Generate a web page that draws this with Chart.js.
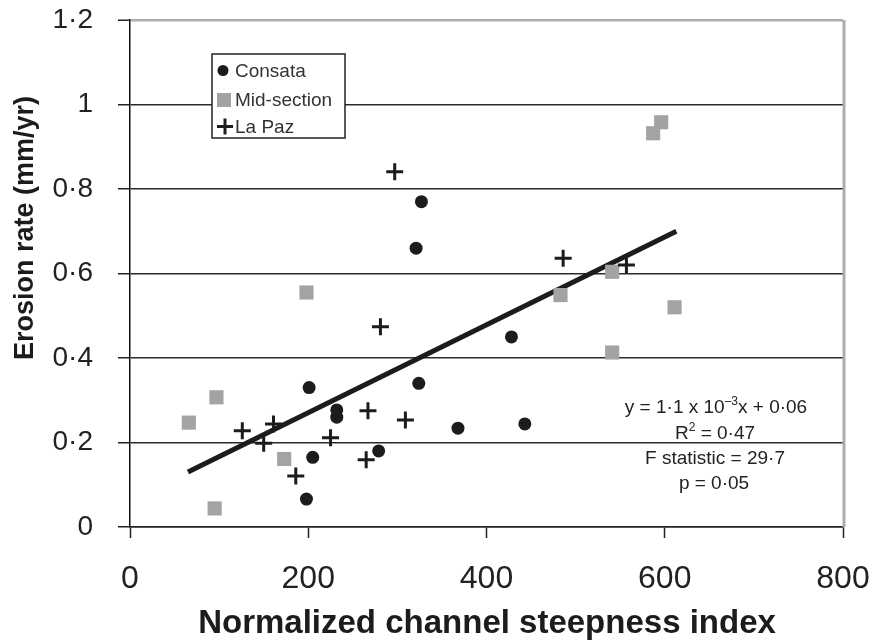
<!DOCTYPE html>
<html>
<head>
<meta charset="utf-8">
<script src="https://cdn.jsdelivr.net/npm/chart.js@4.4.1/dist/chart.umd.min.js"></script>
<style>
  html, body { margin: 0; padding: 0; background: #fff; }
  #wrap { width: 877px; height: 641px; position: relative; }
</style>
</head>
<body>
<div id="wrap"><canvas id="erosion-chart"></canvas></div>
<script>
const xTickLabels = ['0', '200', '400', '600', '800'];
const yTickLabels = ['0', '0·2', '0·4', '0·6', '0·8', '1', '1·2'];

const consataX = [327, 321, 428, 201, 324, 232, 232, 368, 443, 205, 279, 198];
const consataY = [0.77, 0.66, 0.45, 0.33, 0.34, 0.277, 0.26, 0.234, 0.244, 0.165, 0.18, 0.066];

const midX = [198, 97, 66, 173, 95, 596, 587, 483, 541, 611, 541];
const midY = [0.555, 0.307, 0.247, 0.161, 0.044, 0.958, 0.932, 0.549, 0.604, 0.52, 0.413];

const lapazX = [297, 281, 267, 309, 126, 161, 150, 225, 265, 186, 486, 557];
const lapazY = [0.841, 0.474, 0.275, 0.253, 0.228, 0.244, 0.198, 0.211, 0.159, 0.121, 0.636, 0.62];

const trendX = [65, 613];
const trendY = [0.13, 0.70];

const seriesNames = ['Consata', 'Mid-section', 'La Paz'];
const xTitle = 'Normalized channel steepness index';
const yTitle = 'Erosion rate (mm/yr)';

const pts = (xs, ys) => xs.map((x, i) => ({ x: x, y: ys[i] }));

const FONT = '"Liberation Sans", Arial, Helvetica, sans-serif';
const INK = '#1c1c1c';
const GREY = '#a3a3a3';

// titles, legend box, stats text and the grey frame
const overlay = {
    id: 'overlay',
    afterDraw(chart) {
        const { ctx, chartArea: a } = chart;
        ctx.save();

        // right frame
        ctx.strokeStyle = '#adadad';
        ctx.lineWidth = 3;
        ctx.beginPath();
        ctx.moveTo(a.right + 1, a.top);
        ctx.lineTo(a.right + 1, a.bottom);
        ctx.stroke();

        ctx.fillStyle = INK;

        // x title
        ctx.font = 'bold 33px ' + FONT;
        ctx.textAlign = 'center';
        ctx.textBaseline = 'alphabetic';
        ctx.fillText(xTitle, 487, 633);

        // y title
        ctx.save();
        ctx.translate(26, 228);
        ctx.rotate(-Math.PI / 2);
        ctx.font = 'bold 27px ' + FONT;
        ctx.textBaseline = 'middle';
        ctx.fillText(yTitle, 0, 0);
        ctx.restore();

        // legend
        ctx.fillStyle = '#fff';
        ctx.fillRect(212, 54, 133, 84);
        ctx.strokeStyle = '#222';
        ctx.lineWidth = 1.5;
        ctx.strokeRect(212, 54, 133, 84);

        ctx.fillStyle = INK;
        ctx.beginPath();
        ctx.arc(223, 70.5, 5.5, 0, Math.PI * 2);
        ctx.fill();
        ctx.fillStyle = GREY;
        ctx.fillRect(217, 93, 14, 14);
        ctx.strokeStyle = INK;
        ctx.lineWidth = 3;
        ctx.beginPath();
        ctx.moveTo(217, 126.5); ctx.lineTo(233, 126.5);
        ctx.moveTo(225, 118.5); ctx.lineTo(225, 134.5);
        ctx.stroke();

        ctx.fillStyle = '#333';
        ctx.font = '19px ' + FONT;
        ctx.textAlign = 'left';
        ctx.textBaseline = 'alphabetic';
        ctx.fillText(seriesNames[0], 235, 77);
        ctx.fillText(seriesNames[1], 235, 106);
        ctx.fillText(seriesNames[2], 235, 133);

        // regression stats
        ctx.fillStyle = '#222';
        const big = '19px ' + FONT, small = '12px ' + FONT;
        drawPieces(ctx, [['y = 1·1 x 10', big, 0], ['\u20123', small, -8], ['x + 0·06', big, 0]], 716, 413);
        drawPieces(ctx, [['R', big, 0], ['2', small, -8], [' = 0·47', big, 0]], 715, 439);
        ctx.font = big;
        ctx.textAlign = 'center';
        ctx.fillText('F statistic = 29·7', 715, 464);
        ctx.fillText('p = 0·05', 714, 489);

        ctx.restore();
    }
};

function drawPieces(ctx, parts, cx, y) {
    let total = 0;
    parts.forEach(p => { ctx.font = p[1]; total += ctx.measureText(p[0]).width; });
    let x = cx - total / 2;
    ctx.textAlign = 'left';
    parts.forEach(p => {
        ctx.font = p[1];
        ctx.fillText(p[0], x, y + p[2]);
        x += ctx.measureText(p[0]).width;
    });
}

function noPad(scale) {
    scale.paddingTop = 0;
    scale.paddingBottom = 0;
    scale.paddingLeft = 0;
    scale.paddingRight = 0;
}

const ctx = document.getElementById('erosion-chart').getContext('2d');
new Chart(ctx, {
    type: 'scatter',
    data: {
        datasets: [
            {
                label: seriesNames[0],
                data: pts(consataX, consataY),
                pointStyle: 'circle',
                pointRadius: 6.5,
                backgroundColor: INK,
                borderColor: INK,
                borderWidth: 0
            },
            {
                label: seriesNames[2],
                data: pts(lapazX, lapazY),
                pointStyle: 'cross',
                pointRadius: 8.5,
                borderColor: INK,
                borderWidth: 3
            },
            {
                label: seriesNames[1],
                data: pts(midX, midY),
                pointStyle: 'rect',
                pointRadius: 10,
                backgroundColor: GREY,
                borderColor: GREY,
                borderWidth: 0
            },
            {
                type: 'line',
                label: 'trend',
                data: pts(trendX, trendY),
                borderColor: INK,
                borderWidth: 5,
                pointRadius: 0,
                borderCapStyle: 'butt',
                fill: false
            }
        ]
    },
    options: {
        responsive: true,
        maintainAspectRatio: false,
        animation: false,
        devicePixelRatio: 1,
        layout: { padding: { top: 20, right: 34, left: 0, bottom: 0 } },
        plugins: {
            legend: { display: false },
            tooltip: { enabled: false }
        },
        scales: {
            x: {
                type: 'linear',
                min: 0,
                max: 800,
                afterFit(scale) { scale.height = 114; noPad(scale); },
                afterBuildTicks(scale) {
                    scale.ticks = xTickLabels.map((t, i) => ({ value: i * 200 }));
                },
                grid: {
                    drawOnChartArea: false,
                    drawTicks: true,
                    tickLength: 11,
                    tickColor: '#222',
                    tickWidth: 1.5
                },
                border: { color: '#222', width: 1.5 },
                ticks: {
                    padding: 22,
                    color: '#222',
                    font: { family: FONT, size: 32 },
                    maxRotation: 0,
                    autoSkip: false,
                    callback: (v, i) => xTickLabels[i]
                }
            },
            y: {
                type: 'linear',
                min: 0,
                max: 1.2,
                afterFit(scale) { scale.width = 130; noPad(scale); },
                afterBuildTicks(scale) {
                    scale.ticks = yTickLabels.map((t, i) => ({ value: i * 0.2 }));
                },
                grid: {
                    drawTicks: true,
                    tickLength: 12,
                    color: c => c.index === yTickLabels.length - 1 ? '#adadad' : '#2a2a2a',
                    lineWidth: c => c.index === yTickLabels.length - 1 ? 2.5 : 1.5,
                    tickColor: '#222',
                    tickWidth: 1.5
                },
                border: { color: '#111', width: 1.5 },
                ticks: {
                    padding: 25,
                    color: '#222',
                    font: { family: FONT, size: 28 },
                    autoSkip: false,
                    callback: (v, i) => yTickLabels[i]
                }
            }
        }
    },
    plugins: [overlay]
});
</script>
</body>
</html>
